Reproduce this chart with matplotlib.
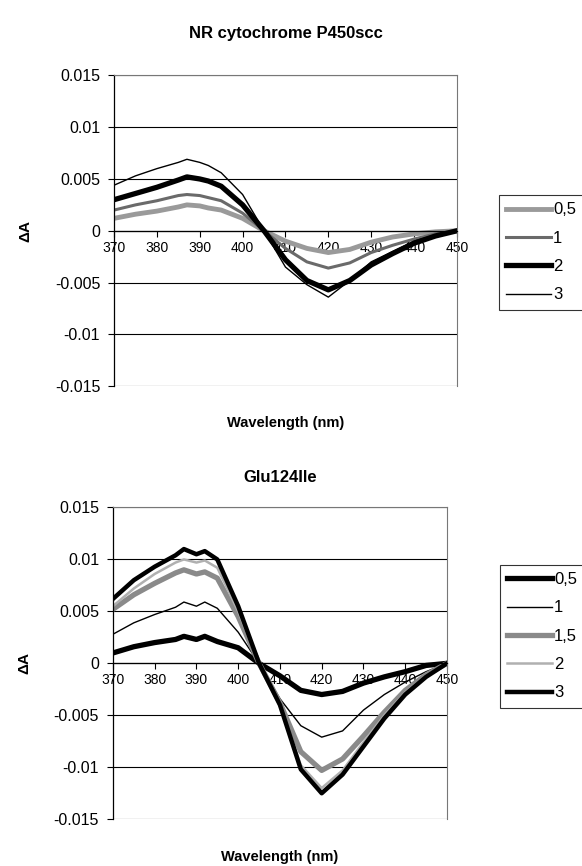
import matplotlib
matplotlib.use("Agg")
import matplotlib.pyplot as plt

plt.rcParams['font.family'] = ['Liberation Sans', 'DejaVu Sans']

#wavelengths (nm)
wavelength = [370, 375, 380, 385, 387, 390, 392, 395, 400, 405, 410, 415, 420, 425, 430, 435, 440, 445, 450]

#NR cytochrome P450scc
wt_labels = ["0,5", "1", "2", "3"]
wt_05 = [0.0012, 0.0016, 0.0019, 0.0023, 0.0025, 0.0024, 0.0022, 0.0020, 0.0012, 0.0, -0.0010, -0.0017, -0.0021, -0.0018, -0.0011, -0.0006, -0.0003, -0.0001, 0.0]
wt_1 = [0.0020, 0.0025, 0.0029, 0.0034, 0.0035, 0.0034, 0.0032, 0.0029, 0.0017, 0.0, -0.0017, -0.0030, -0.0036, -0.0031, -0.0021, -0.0014, -0.0008, -0.0003, 0.0]
wt_2 = [0.0030, 0.0036, 0.0042, 0.0049, 0.0052, 0.0050, 0.0048, 0.0043, 0.0025, 0.0, -0.0028, -0.0048, -0.0057, -0.0048, -0.0033, -0.0022, -0.0012, -0.0005, 0.0]
wt_3 = [0.0044, 0.0053, 0.0060, 0.0066, 0.0069, 0.0066, 0.0063, 0.0056, 0.0035, 0.0, -0.0035, -0.0052, -0.0064, -0.0048, -0.0030, -0.0020, -0.0010, -0.0004, 0.0]

#Glu124Ile
mut_labels = ["0,5", "1", "1,5", "2", "3"]
mut_05 = [0.0010, 0.0016, 0.0020, 0.0023, 0.0026, 0.0023, 0.0026, 0.0021, 0.0015, 0.0, -0.0012, -0.0026, -0.0030, -0.0027, -0.0019, -0.0013, -0.0008, -0.0002, 0.0]
mut_1 = [0.0028, 0.0039, 0.0047, 0.0054, 0.0059, 0.0055, 0.0059, 0.0053, 0.0030, 0.0, -0.0034, -0.0060, -0.0071, -0.0065, -0.0045, -0.0030, -0.0018, -0.0008, 0.0]
mut_15 = [0.0052, 0.0066, 0.0077, 0.0087, 0.0090, 0.0086, 0.0088, 0.0082, 0.0045, 0.0, -0.0038, -0.0085, -0.0103, -0.0092, -0.0070, -0.0047, -0.0026, -0.0011, 0.0]
mut_2 = [0.0055, 0.0072, 0.0086, 0.0097, 0.0100, 0.0097, 0.0099, 0.0092, 0.0050, 0.0, -0.0040, -0.0098, -0.0120, -0.0103, -0.0076, -0.0050, -0.0028, -0.0012, 0.0]
mut_3 = [0.0062, 0.0080, 0.0093, 0.0104, 0.0110, 0.0105, 0.0108, 0.0100, 0.0055, 0.0, -0.0040, -0.0102, -0.0125, -0.0107, -0.0080, -0.0053, -0.0030, -0.0013, 0.0]

x_ticks = [370, 380, 390, 400, 410, 420, 430, 440, 450]
y_ticks = [-0.015, -0.01, -0.005, 0, 0.005, 0.01, 0.015]
y_ticklabels = ["-0.015", "-0.01", "-0.005", "0", "0.005", "0.01", "0.015"]


def styleAxes(ax, title, title_pad, xlabel_y):
    ax.set_xlim(370, 450)
    ax.set_ylim(-0.015, 0.015)
    ax.set_yticks(y_ticks)
    ax.set_yticklabels(y_ticklabels, fontsize=11.5)
    ax.set_xticks(x_ticks)
    ax.set_xticklabels([str(t) for t in x_ticks], fontsize=9.5)
    ax.grid(axis='y', color='black', linewidth=0.8)
    ax.set_axisbelow(True)
    ax.spines['bottom'].set_position(('data', 0))
    ax.spines['bottom'].set_linewidth(0.9)
    ax.spines['left'].set_linewidth(0.9)
    for side in ['top', 'right']:
        ax.spines[side].set_color('#777777')
        ax.spines[side].set_linewidth(0.8)
    ax.tick_params(axis='x', direction='out', length=4, pad=3)
    ax.tick_params(axis='y', direction='out', length=4, pad=6)
    ax.set_title(title, fontsize=12, fontweight='bold', pad=title_pad)
    ax.set_ylabel("ΔA", fontsize=11, fontweight='bold', labelpad=16)
    ax.text(0.5, xlabel_y, "Wavelength (nm)", transform=ax.transAxes, ha='center', va='center',
            fontsize=10.5, fontweight='bold')


def addLegend(ax, anchor):
    leg = ax.legend(loc='upper left', bbox_to_anchor=anchor, bbox_transform=fig.transFigure,
                    fontsize=12, frameon=True, fancybox=False, edgecolor='black', handlelength=2.7,
                    handletextpad=0.1, labelspacing=0.8, borderpad=0.45, borderaxespad=0)
    leg.get_frame().set_linewidth(0.8)
    return leg


fig = plt.figure(figsize=(5.82, 8.66), dpi=100)

#top chart
ax1 = fig.add_axes([0.196, 0.554, 0.589, 0.359])
ax1.plot(wavelength, wt_05, color='#9a9a9a', linewidth=3.5, label=wt_labels[0])
ax1.plot(wavelength, wt_1, color='#6a6a6a', linewidth=2.2, label=wt_labels[1])
ax1.plot(wavelength, wt_2, color='black', linewidth=3.8, label=wt_labels[2])
ax1.plot(wavelength, wt_3, color='black', linewidth=1.0, label=wt_labels[3])
styleAxes(ax1, "NR cytochrome P450scc", 27, -0.118)
addLegend(ax1, (0.857, 0.775))

#bottom chart
ax2 = fig.add_axes([0.194, 0.054, 0.574, 0.360])
ax2.plot(wavelength, mut_05, color='black', linewidth=3.8, label=mut_labels[0])
ax2.plot(wavelength, mut_1, color='black', linewidth=1.0, label=mut_labels[1])
ax2.plot(wavelength, mut_15, color='#8a8a8a', linewidth=3.8, label=mut_labels[2])
ax2.plot(wavelength, mut_2, color='#b0b0b0', linewidth=1.8, label=mut_labels[3])
ax2.plot(wavelength, mut_3, color='black', linewidth=3.2, label=mut_labels[4])
styleAxes(ax2, "Glu124Ile", 18, -0.12)
addLegend(ax2, (0.859, 0.348))

plt.savefig("out.png", dpi=100)
plt.close(fig)
